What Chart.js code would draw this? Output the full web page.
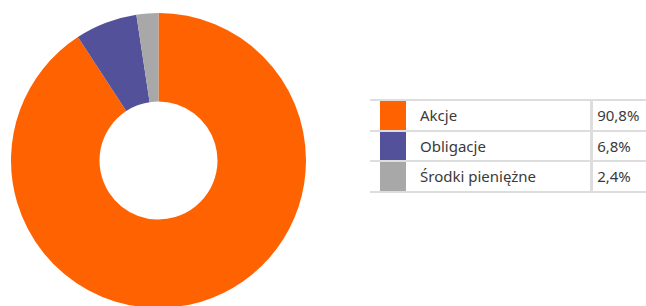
<!DOCTYPE html>
<html>
<head>
<meta charset="utf-8">
<script src="https://cdn.jsdelivr.net/npm/chart.js@4"></script>
<style>
  html, body { margin: 0; padding: 0; width: 646px; height: 306px; overflow: hidden; background: #fff; }
  #wrap { position: absolute; left: 11px; top: 13px; width: 295px; height: 295px; }
  #legend { position: absolute; left: 370px; top: 99px; border-collapse: collapse; font-family: "Noto Sans", "Open Sans", sans-serif; font-size: 15px; color: #3a3a3a; }
  #legend td { border-top: 2px solid #ddd; border-bottom: 2px solid #ddd; height: 28.5px; padding: 0; }
  #legend td.sw { width: 10px; padding: 0; }
  #legend td.sw div { width: 26px; height: 30.5px; margin-left: 10px; margin-top: -1px; margin-bottom: -1px; }
  #legend td.lab { width: 188px; padding-left: 14px; border-right: 3px solid #ddd; }
  #legend td.val { width: 50px; padding-left: 4px; }
</style>
</head>
<body>
<div id="wrap"><canvas id="c" width="295" height="295"></canvas></div>
<table id="legend"></table>
<script>
const categories = ["Akcje", "Obligacje", "Środki pieniężne"];
const values = [90.8, 6.8, 2.4];
const valueLabels = ["90,8%", "6,8%", "2,4%"];
const colors = ["#FF6200", "#525199", "#A8A8A8"];

new Chart(document.getElementById('c'), {
  type: 'doughnut',
  data: {
    labels: categories,
    datasets: [{ data: values, backgroundColor: colors, borderWidth: 0 }]
  },
  options: {
    responsive: false,
    animation: false,
    cutout: '40%',
    layout: { padding: 0 },
    plugins: { legend: { display: false }, tooltip: { enabled: false } }
  }
});

const table = document.getElementById('legend');
categories.forEach((c, i) => {
  const tr = document.createElement('tr');
  const sw = document.createElement('td'); sw.className = 'sw';
  const box = document.createElement('div'); box.style.background = colors[i]; sw.appendChild(box);
  const lab = document.createElement('td'); lab.className = 'lab'; lab.textContent = c;
  const val = document.createElement('td'); val.className = 'val'; val.textContent = valueLabels[i];
  tr.appendChild(sw); tr.appendChild(lab); tr.appendChild(val);
  table.appendChild(tr);
});
</script>
</body>
</html>
